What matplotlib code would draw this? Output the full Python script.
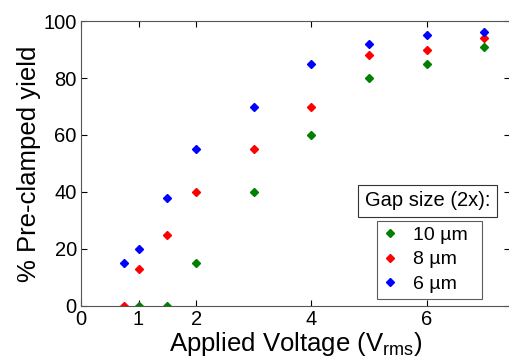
import matplotlib.pyplot as plt
from matplotlib.patches import Rectangle

plt.rcParams['font.family'] = ['Liberation Sans', 'DejaVu Sans']
plt.rcParams['mathtext.fontset'] = 'custom'
plt.rcParams['mathtext.rm'] = 'Liberation Sans'
plt.rcParams['mathtext.it'] = 'Liberation Sans'

# data
x_10 = [1, 1.5, 2, 3, 4, 5, 6, 7]
y_10 = [0, 0, 15, 40, 60, 80, 85, 91]
x_8 = [0.75, 1, 1.5, 2, 3, 4, 5, 6, 7]
y_8 = [0, 13, 25, 40, 55, 70, 88, 90, 94]
x_6 = [0.75, 1, 1.5, 2, 3, 4, 5, 6, 7]
y_6 = [15, 20, 38, 55, 70, 85, 92, 95, 96]
labels = ['10 \u00b5m', '8 \u00b5m', '6 \u00b5m']
xticks = [0, 1, 2, 4, 6]
yticks = [0, 20, 40, 60, 80, 100]

fig = plt.figure(figsize=(5.09, 3.64), dpi=100)
ax = fig.add_axes([0.159, 0.160, 0.843, 0.782])

h1, = ax.plot(x_10, y_10, 'D', color=(0, 0.5, 0), markersize=4.5, label=labels[0])
h2, = ax.plot(x_8, y_8, 'D', color='red', markersize=4.5, label=labels[1])
h3, = ax.plot(x_6, y_6, 'D', color='blue', markersize=4.5, label=labels[2])

ax.set_xlim(0, 7.45)
ax.set_ylim(0, 100)
ax.set_xticks(xticks)
ax.set_yticks(yticks)
ax.tick_params(direction='in', top=True, right=True, length=4, width=0.8,
               labelsize=14.5, pad=3, colors='black')
ax.tick_params(axis='x', pad=3)
for s in ax.spines.values():
    s.set_color('#555555')
    s.set_linewidth(0.8)

ax.set_xlabel('Applied Voltage (V$_{\\mathregular{rms}}$)', fontsize=18.5, labelpad=1)
ax.set_ylabel('% Pre-clamped yield', fontsize=18.5, labelpad=2)

leg = ax.legend(handles=[h1, h2, h3], loc='center', mode='expand',
                bbox_to_anchor=(0.689, 0.013, 0.246, 0.298),
                frameon=True, fancybox=False, fontsize=14, handlelength=0.8,
                handletextpad=0.75, labelspacing=0.35, borderpad=0.3,
                borderaxespad=0, markerscale=0.9)
leg.get_frame().set_edgecolor('#333333')
leg.get_frame().set_linewidth(0.8)

# title box above legend
fig.patches.append(Rectangle((0.703, 0.404), 0.273, 0.088, transform=fig.transFigure,
                             facecolor='white', edgecolor='#333333', linewidth=0.8))
fig.text(0.840, 0.449, 'Gap size (2x):', ha='center', va='center', fontsize=14.5)

fig.savefig('out.png', dpi=100)
